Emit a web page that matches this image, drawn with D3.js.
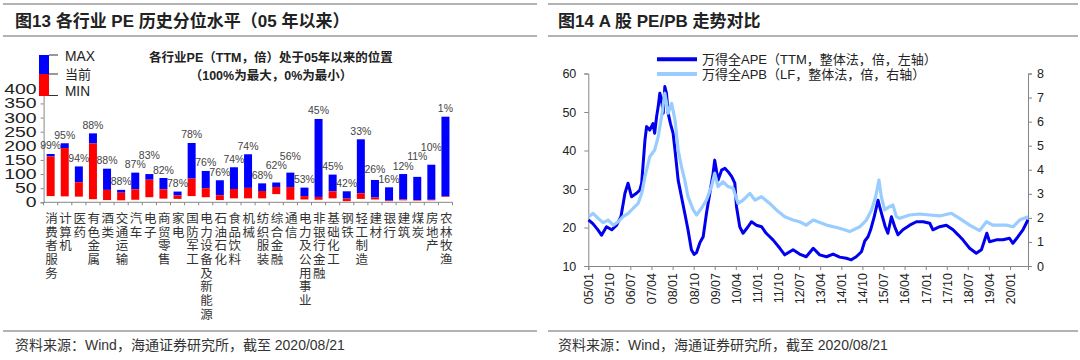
<!DOCTYPE html>
<html><head><meta charset="utf-8">
<script src="https://cdn.jsdelivr.net/npm/d3@7"></script>
<style>
body{margin:0;background:#fff;}
svg{display:block;font-family:"Liberation Sans",Arial,"Noto Sans CJK SC",sans-serif;}
</style></head><body>
<svg id="c" width="1080" height="360"></svg>
<script>
// ---------- Figure 13 data ----------
const categories = ["消费者服务","计算机","医药","有色金属","酒类","交通运输","汽车","电子","商贸零售","家电","国防军工","电力设备及新能源","石油石化","食品饮料","机械","纺织服装","综合金融","通信","电力及公用事业","非银行金融","基础化工","钢铁","轻工制造","建材","银行","建筑","煤炭","房地产","农林牧渔"];
const pctLabels = ["99%","95%","94%","88%","88%","88%","87%","83%","82%","78%","78%","76%","76%","74%","74%","68%","62%","56%","53%","45%","45%","42%","33%","26%","16%","12%","11%","10%","1%"];
const maxVals = [171,209,127,244,119,44,105,100,86,38,210,111,78,124,170,67,70,105,52,295,98,39,223,79,53,100,90,133,303];
const curVals = [162,192,71,208,44,34,46,80,46,24,84,50,25,47,51,40,54,54,22,19,39,13,32,17,6,10,8,9,21];
const minVals = [22,21,20,11,8,7,9,18,13,12,22,18,8,14,14,14,29,9,10,9,14,4,12,10,4,7,6,7,19];
const leftYTicks = [0,50,100,150,200,250,300,350,400];
const legendLabels = ["MAX","当前","MIN"];

// ---------- Figure 14 data ----------
const peDates = ["2005-01-04","2005-03-01","2005-05-01","2005-06-22","2005-08-25","2005-11-01","2006-01-04","2006-03-01","2006-04-22","2006-06-01","2006-07-16","2006-09-19","2006-11-01","2006-11-25","2007-01-07","2007-01-28","2007-03-10","2007-04-22","2007-05-13","2007-06-07","2007-06-28","2007-07-19","2007-08-10","2007-09-01","2007-09-22","2007-10-13","2007-11-04","2007-12-04","2008-01-07","2008-02-01","2008-03-13","2008-04-25","2008-06-07","2008-07-19","2008-09-01","2008-10-07","2008-11-07","2008-12-19","2009-01-10","2009-02-01","2009-03-16","2009-04-28","2009-06-10","2009-07-01","2009-08-13","2009-09-28","2009-11-10","2009-12-22","2010-02-07","2010-03-19","2010-04-10","2010-05-22","2010-07-04","2010-09-07","2010-10-22","2010-12-25","2011-03-01","2011-05-01","2011-07-28","2011-10-25","2011-12-28","2012-04-13","2012-07-07","2012-10-01","2013-01-01","2013-03-25","2013-06-22","2013-09-16","2013-12-10","2014-03-07","2014-05-10","2014-07-13","2014-09-19","2014-11-01","2014-12-13","2015-01-16","2015-03-04","2015-04-22","2015-05-13","2015-07-25","2015-08-28","2015-10-13","2015-11-25","2016-01-07","2016-03-10","2016-06-07","2016-09-01","2016-11-28","2017-02-22","2017-04-04","2017-07-01","2017-09-25","2017-12-22","2018-02-25","2018-04-28","2018-07-25","2018-10-19","2018-12-25","2019-03-05","2019-04-10","2019-07-07","2019-10-01","2019-12-25","2020-02-07","2020-04-13","2020-06-16","2020-08-21"];
const peValues = [22,21,19.5,18,20.2,19.4,20.6,22.8,28.9,31.5,28,28.9,29.7,31.5,42.7,46.2,45.3,47,44.5,48.8,51.4,54.9,53.1,49.7,56.6,54.9,49.7,47,44.5,40.1,32.3,28,23.7,19.4,14.2,13,13.5,16,16.8,17.6,23.7,28.9,34.1,37.5,32.3,34.9,35.4,34.5,33.2,31.5,25.4,20.2,18.5,20.2,21.5,20.6,20.2,18.5,16.8,14.6,12.9,14.2,13.1,12.4,14.6,12.9,12.4,13.1,12.3,12,11.6,12.4,13.7,16.5,17.6,19.4,22.8,27.1,25.4,20.2,18.5,22.8,20.2,18.1,19.4,20.6,21.5,21.5,21.1,19.4,20.2,20.6,19.4,18.1,16.8,14.6,13.3,14.2,18.5,16.3,16.8,16.8,17.2,15.9,17.6,19.4,22];
const pbDates = ["2005-01-04","2005-03-04","2005-05-10","2005-07-13","2005-09-16","2005-11-22","2006-01-25","2006-03-28","2006-06-04","2006-08-07","2006-10-10","2006-11-25","2007-01-07","2007-03-10","2007-05-13","2007-06-28","2007-08-10","2007-09-22","2007-11-04","2007-12-19","2008-02-01","2008-03-13","2008-04-25","2008-06-07","2008-07-19","2008-09-25","2008-11-07","2009-01-10","2009-03-16","2009-05-19","2009-07-01","2009-08-13","2009-10-19","2009-12-22","2010-02-25","2010-05-01","2010-07-04","2010-10-01","2010-12-04","2011-03-01","2011-06-16","2011-09-10","2011-12-28","2012-04-13","2012-07-07","2012-10-01","2013-01-01","2013-06-22","2013-12-10","2014-04-19","2014-08-28","2014-11-22","2015-01-28","2015-03-22","2015-05-04","2015-06-04","2015-07-16","2015-09-19","2015-11-01","2015-12-16","2016-01-28","2016-06-07","2016-10-13","2017-02-22","2017-07-01","2017-12-01","2018-03-16","2018-07-25","2018-12-01","2019-02-28","2019-05-22","2019-11-13","2020-02-10","2020-05-04","2020-08-21"];
const pbValues = [2.05,2.19,1.98,1.8,1.91,1.7,1.84,2.05,2.19,2.4,2.6,3.02,3.71,4.54,4.82,5.37,6.2,7.18,6.35,6.76,6.07,4.82,4.13,3.57,2.88,2.33,2.12,2.4,2.74,3.3,3.85,3.3,3.5,3.3,3.23,2.6,2.74,3.02,2.74,2.88,2.6,2.33,2.05,1.91,1.84,1.7,1.91,1.7,1.57,1.43,1.63,1.91,2.33,2.88,3.57,2.88,2.33,2.47,2.54,2.05,1.98,2.12,2.16,2.12,2.08,2.19,1.98,1.7,1.47,1.84,1.7,1.7,1.63,1.91,2.05];
const xTickLabels = ["05/01","05/10","06/07","07/04","08/01","08/10","09/07","10/04","11/01","11/10","12/07","13/04","14/01","14/10","15/07","16/04","17/01","17/10","18/07","19/04","20/01"];
const peLeftTicks = [10,20,30,40,50,60];
const pbRightTicks = [0,1,2,3,4,5,6,7,8];
const legend14 = ["万得全APE（TTM，整体法，倍，左轴）","万得全APB（LF，整体法，倍，右轴）"];

const svg = d3.select("#c");
const AX = "#868686", TXT = "#333";

// ---------- panel frames ----------
function frame(x0, x1, title, tx) {
  [4, 36, 331].forEach(y => svg.append("line").attr("x1", x0).attr("x2", x1).attr("y1", y).attr("y2", y)
    .attr("stroke", "#9a9a9a").attr("stroke-width", 1.6));
  svg.append("text").attr("x", tx).attr("y", 21).attr("dominant-baseline", "central")
    .attr("font-size", 17).attr("font-weight", "bold").attr("fill", "#222").text(title);
  svg.append("text").attr("x", tx).attr("y", 345).attr("dominant-baseline", "central")
    .attr("font-size", 14).attr("fill", TXT).text("资料来源：Wind，海通证券研究所，截至 2020/08/21");
}
frame(3, 537, "图13 各行业 PE 历史分位水平（05 年以来）", 15);
frame(548, 1078, "图14 A 股 PE/PB 走势对比", 558);

// ---------- Figure 13 ----------
const g1 = svg.append("g");
const x1 = d3.scaleBand().domain(categories).range([43.6, 452.5]).paddingInner(0.43).paddingOuter(0.215);
const y1 = d3.scaleLinear().domain([0, 400]).range([202.3, 89.3]);

// y axis
const ya = g1.append("g").attr("transform", "translate(43.6,0)")
  .call(d3.axisLeft(y1).tickValues(leftYTicks).tickSize(3).tickPadding(4).tickFormat(d3.format("d")));
ya.select(".domain").attr("stroke", AX);
ya.selectAll(".tick line").attr("stroke", AX);
ya.selectAll(".tick text").attr("font-size", 14).attr("fill", "#222")
  .attr("font-family", "Liberation Sans, Arial")
  .attr("textLength", d => String(d).length * 10.8).attr("lengthAdjust", "spacingAndGlyphs");

// x axis (band boundaries)
const xa = g1.append("g").attr("transform", "translate(0,202.3)");
xa.append("line").attr("x1", 43.6).attr("x2", 452.5).attr("stroke", AX);
const bounds = d3.range(categories.length + 1).map(i => 43.6 + i * (452.5 - 43.6) / categories.length);
xa.selectAll("line.t").data(bounds).join("line").attr("class", "t")
  .attr("x1", d => d).attr("x2", d => d).attr("y1", 0).attr("y2", 3).attr("stroke", AX);

// bars
const bw = 8;
const bx = d => x1(d) + x1.bandwidth() / 2 - bw / 2;
g1.selectAll("rect.mx").data(categories).join("rect").attr("class", "mx")
  .attr("x", bx).attr("width", bw)
  .attr("y", (d, i) => y1(maxVals[i])).attr("height", (d, i) => y1(curVals[i]) - y1(maxVals[i]))
  .attr("fill", "#0000ff");
g1.selectAll("rect.mn").data(categories).join("rect").attr("class", "mn")
  .attr("x", bx).attr("width", bw)
  .attr("y", (d, i) => y1(curVals[i])).attr("height", (d, i) => y1(minVals[i]) - y1(curVals[i]))
  .attr("fill", "#ff0000");

// percent labels with simple collision avoidance against the previous label
const labY = [];
maxVals.forEach((v, i) => {
  let b = y1(v) - 4.5;
  if (i > 0) {
    const prev = labY[i - 1];
    if (Math.abs(b - prev) < 9) {
      if (b - prev >= 5) labY[i - 1] = b - 9.5;   // lift the previous label slightly
      else b = prev - 9.5;                        // lift this label
    }
  }
  labY.push(b);
});
g1.selectAll("text.pct").data(categories).join("text").attr("class", "pct")
  .attr("x", d => x1(d) + x1.bandwidth() / 2).attr("y", (d, i) => labY[i])
  .attr("text-anchor", "middle").attr("font-size", 10.5).attr("fill", "#444").text((d, i) => pctLabels[i]);

// vertical category labels
g1.selectAll("text.cat").data(categories).join("text").attr("class", "cat")
  .attr("x", d => x1(d) + x1.bandwidth() / 2 + 0.8).attr("y", 212)
  .attr("writing-mode", "vertical-rl").attr("letter-spacing", 1.2)
  .attr("font-size", 12.5).attr("font-family", "Noto Sans CJK SC").attr("fill", TXT).text(d => d);

// inner title
g1.append("text").attr("x", 271).attr("y", 57.5).attr("text-anchor", "middle").attr("dominant-baseline", "central")
  .attr("font-size", 12.5).attr("font-weight", "bold").attr("fill", "#222").text("各行业PE（TTM，倍）处于05年以来的位置");
g1.append("text").attr("x", 271).attr("y", 75.5).attr("text-anchor", "middle").attr("dominant-baseline", "central")
  .attr("font-size", 12.5).attr("font-weight", "bold").attr("fill", "#222").text("（100%为最大，0%为最小）");

// legend
g1.append("rect").attr("x", 39).attr("y", 55).attr("width", 10).attr("height", 19).attr("fill", "#0000ff");
g1.append("rect").attr("x", 39).attr("y", 74).attr("width", 10).attr("height", 22).attr("fill", "#ff0000");
[55, 74, 95.5].forEach(y => g1.append("line").attr("x1", 49).attr("x2", 58).attr("y1", y).attr("y2", y).attr("stroke", "#333"));
const legY = [56, 73.5, 90.5];
legendLabels.forEach((t, i) => {
  const el = g1.append("text").attr("x", 65).attr("y", legY[i]).attr("dominant-baseline", "central").attr("fill", "#222").text(t);
  if (i === 1) el.attr("font-size", 13).attr("font-family", "Noto Sans CJK SC");
  else el.attr("font-size", 14).attr("textLength", i === 0 ? 30 : 25).attr("lengthAdjust", "spacingAndGlyphs");
});

// ---------- Figure 14 ----------
const g2 = svg.append("g");
const parse = d3.timeParse("%Y-%m-%d");
const x2 = d3.scaleTime().domain([parse("2005-01-01"), parse("2020-08-21")]).range([588.3, 1028]);
const yL = d3.scaleLinear().domain([10, 60]).range([266, 73.5]);
const yR = d3.scaleLinear().domain([0, 8]).range([266, 73.5]);

const la = g2.append("g").attr("transform", "translate(588.3,0)")
  .call(d3.axisLeft(yL).tickValues(peLeftTicks).tickSize(4).tickPadding(8));
const ra = g2.append("g").attr("transform", "translate(1028,0)")
  .call(d3.axisRight(yR).tickValues(pbRightTicks).tickSize(4).tickPadding(5));
const tparse = d3.timeParse("%y/%m");
const xTickDates = xTickLabels.map(tparse);
const ba = g2.append("g").attr("transform", "translate(0,266)")
  .call(d3.axisBottom(x2).tickValues(xTickDates).tickSize(4).tickFormat((d, i) => xTickLabels[i]));
[la, ra, ba].forEach(a => {
  a.select(".domain").attr("stroke", AX);
  a.selectAll(".tick line").attr("stroke", AX);
  a.selectAll(".tick text").attr("font-size", 12.5).attr("fill", "#222").attr("font-family", "Liberation Sans, Arial");
});
ba.selectAll(".tick text").attr("transform", "rotate(-90)").attr("text-anchor", "end")
  .attr("dy", "0.35em").attr("x", -7).attr("y", 0);

const pe = peDates.map((d, i) => [parse(d), peValues[i]]);
const pb = pbDates.map((d, i) => [parse(d), pbValues[i]]);
g2.append("path").datum(pe).attr("fill", "none").attr("stroke", "#0000ee").attr("stroke-width", 3)
  .attr("stroke-linejoin", "round").attr("d", d3.line().x(d => x2(d[0])).y(d => yL(d[1])));
g2.append("path").datum(pb).attr("fill", "none").attr("stroke", "#99ccff").attr("stroke-width", 3.2)
  .attr("stroke-linejoin", "round").attr("d", d3.line().x(d => x2(d[0])).y(d => yR(d[1])));

// legend
const lc = ["#0000ee", "#99ccff"];
[59.3, 74].forEach((y, i) => {
  g2.append("line").attr("x1", 657).attr("x2", 697).attr("y1", y).attr("y2", y).attr("stroke", lc[i]).attr("stroke-width", 4);
  g2.append("text").attr("x", 702).attr("y", y).attr("dominant-baseline", "central").attr("font-size", 13)
    .attr("fill", "#222").text(legend14[i]);
});
</script>
</body></html>
